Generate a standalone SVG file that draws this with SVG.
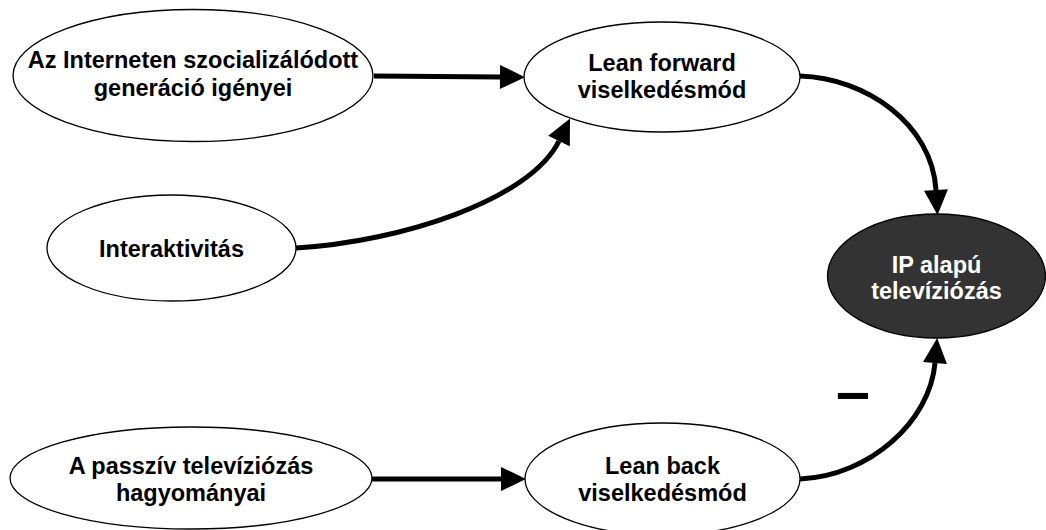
<svg xmlns="http://www.w3.org/2000/svg" width="1046" height="530" viewBox="0 0 1046 530">
<style>
.n{fill:#ffffff;stroke:#000;stroke-width:1.3}
.d{fill:#333333;stroke:#000;stroke-width:1.3}
.t{font-family:"Liberation Sans",Arial,sans-serif;font-weight:bold;font-size:23.5px;text-anchor:middle;fill:#000}
.w{fill:#ffffff}
.c{fill:none;stroke:#000;stroke-width:5;marker-end:url(#ah)}
</style>
<defs>
<marker id="ah" markerUnits="userSpaceOnUse" markerWidth="26" markerHeight="26" refX="0" refY="12" orient="auto" overflow="visible">
<path d="M0,0 L25,12 L0,24 Z" fill="#000"/>
</marker>
</defs>
<rect width="1046" height="530" fill="#fff"/>
<g id="connectors">
<path class="c" d="M374,76 L500,77"/>
<path class="c" d="M800,76 C866,78 932,124 936,190"/>
<path class="c" d="M296,248 C400,242 530,200 559,141"/>
<path class="c" d="M800,479 C870,476 930,421 935,363"/>
<path class="c" d="M372,479 L501,479"/>
</g>
<g id="n1">
<ellipse class="n" cx="193" cy="75.5" rx="180" ry="66"/>
<text class="t" x="193" y="68">Az Interneten szocializálódott</text>
<text class="t" x="193" y="96">generáció igényei</text>
</g>
<g id="n2">
<ellipse class="n" cx="662" cy="77" rx="138" ry="55"/>
<text class="t" x="662" y="71">Lean forward</text>
<text class="t" x="662" y="98">viselkedésmód</text>
</g>
<g id="n3">
<ellipse class="n" cx="171.5" cy="248" rx="124.5" ry="53"/>
<text class="t" x="171.5" y="257">Interaktivitás</text>
</g>
<g id="n4">
<ellipse class="d" cx="936.5" cy="276" rx="109" ry="62"/>
<text class="t w" x="936.5" y="273">IP alapú</text>
<text class="t w" x="936.5" y="299">televíziózás</text>
</g>
<g id="n5">
<ellipse class="n" cx="191" cy="478" rx="181" ry="51"/>
<text class="t" x="191" y="474">A passzív televíziózás</text>
<text class="t" x="191" y="501">hagyományai</text>
</g>
<g id="n6">
<ellipse class="n" cx="662.5" cy="479" rx="137.5" ry="56"/>
<text class="t" x="662.5" y="474">Lean back</text>
<text class="t" x="662.5" y="501">viselkedésmód</text>
</g>
<text id="minus" x="836" y="412" font-family="Liberation Sans,Arial,sans-serif" font-weight="bold" font-size="61">–</text>
</svg>
